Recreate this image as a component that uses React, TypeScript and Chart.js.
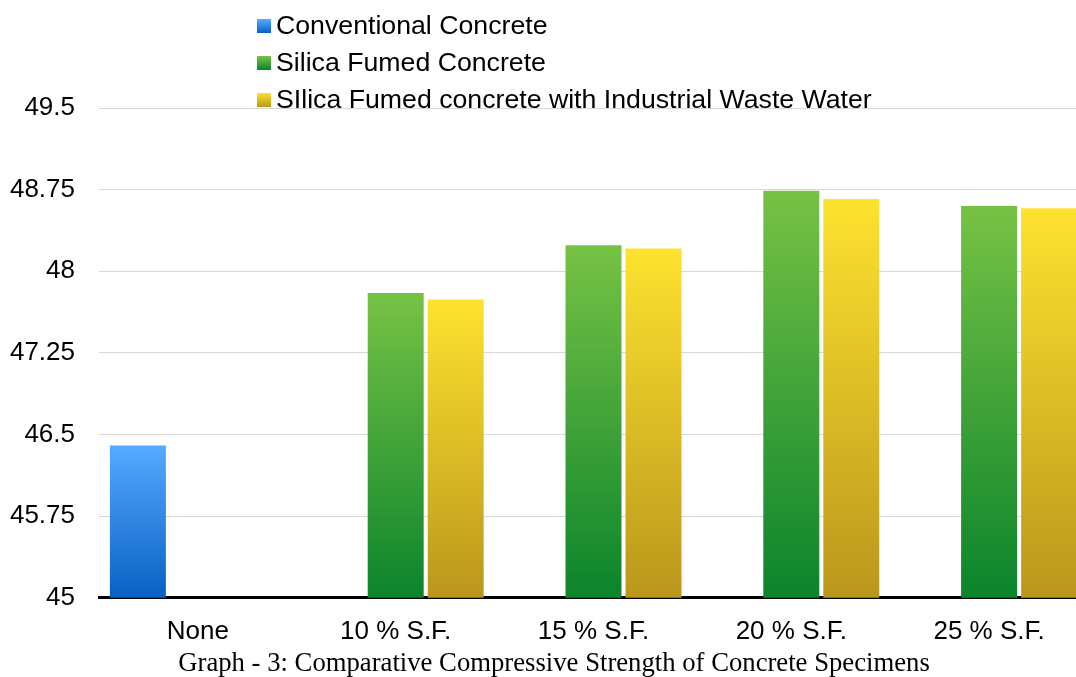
import React, { useEffect, useRef } from "react";
import { Chart, registerables } from "chart.js";

Chart.register(...registerables);

const categories = ["None", "10 % S.F.", "15 % S.F.", "20 % S.F.", "25 % S.F."];
const seriesNames = [
  "Conventional Concrete",
  "Silica Fumed Concrete",
  "SIlica Fumed concrete with Industrial Waste Water",
];
const conventionalValues = [46.4, null, null, null, null];
const silicaValues = [null, 47.8, 48.24, 48.74, 48.6];
const wasteWaterValues = [null, 47.74, 48.21, 48.665, 48.58];
const yTickLabels = ["45", "45.75", "46.5", "47.25", "48", "48.75", "49.5"];
const chartTitle = "Graph - 3: Comparative Compressive Strength of Concrete Specimens";

const gradients: [string, string][] = [
  ["#55abff", "#0a60c3"],
  ["#77c245", "#0b842c"],
  ["#fde22f", "#ba971c"],
];

function barGradient(top: string, bottom: string) {
  return (ctx: any) => {
    const chart = ctx.chart;
    const yScale = chart.scales && chart.scales.y;
    const v = ctx.raw;
    if (!chart.chartArea || !yScale || v === null || v === undefined) return top;
    const y0 = yScale.getPixelForValue(v);
    const y1 = yScale.getPixelForValue(yScale.min);
    if (!isFinite(y0) || !isFinite(y1) || y0 === y1) return top;
    const g = chart.ctx.createLinearGradient(0, y0, 0, y1);
    g.addColorStop(0, top);
    g.addColorStop(1, bottom);
    return g;
  };
}

export default function App() {
  const canvasRef = useRef<HTMLCanvasElement | null>(null);

  useEffect(() => {
    if (!canvasRef.current) return;
    const seriesValues = [conventionalValues, silicaValues, wasteWaterValues];
    const chart = new Chart(canvasRef.current, {
      type: "bar",
      data: {
        labels: categories,
        datasets: seriesValues.map((vals, i) => ({
          label: seriesNames[i],
          data: vals as any,
          backgroundColor: barGradient(gradients[i][0], gradients[i][1]) as any,
          borderWidth: 0,
          categoryPercentage: 0.91,
          barPercentage: 0.933,
          yAxisID: "y",
        })),
      },
      options: {
        responsive: false,
        animation: false,
        devicePixelRatio: 1,
        layout: { padding: { top: 108, right: 0, bottom: 0, left: 0 } },
        plugins: {
          legend: { display: false },
          tooltip: { enabled: false },
          title: {
            display: true,
            position: "bottom",
            text: chartTitle,
            color: "#000",
            font: { family: "'Liberation Serif', 'Times New Roman', serif", size: 26.7, weight: "normal", lineHeight: 1 },
            padding: { top: 6, bottom: 0 },
          },
        },
        scales: {
          x: {
            afterFit: (scale: any) => {
              scale.height = 46.5;
            },
            grid: { display: false, drawTicks: false },
            border: { display: true, color: "#000", width: 3 },
            ticks: {
              color: "#000",
              padding: 18,
              maxRotation: 0,
              autoSkip: false,
              font: { family: "'Liberation Sans', Arial, sans-serif", size: 26 },
            },
          },
          y: {
            min: 45,
            max: 49.5,
            afterFit: (scale: any) => {
              scale.width = 99;
            },
            grid: { color: "#d9d9d9", lineWidth: 1, drawTicks: false },
            border: { display: false },
            ticks: {
              stepSize: 0.75,
              color: "#000",
              padding: 24,
              font: { family: "'Liberation Sans', Arial, sans-serif", size: 26 },
              callback: (_v: any, index: number) => yTickLabels[index],
            },
          },
          yRight: {
            type: "linear",
            position: "right",
            min: 45,
            max: 49.5,
            afterFit: (scale: any) => {
              scale.width = 20;
            },
            grid: { display: false, drawTicks: false },
            border: { display: false },
            ticks: { display: false },
          },
        },
      },
    });
    return () => chart.destroy();
  }, []);

  return (
    <div
      style={{
        position: "absolute",
        left: 0,
        top: 0,
        width: 1076,
        height: 677,
        overflow: "hidden",
        background: "#fff",
      }}
    >
      <canvas
        ref={canvasRef}
        width={1108}
        height={677}
        style={{ position: "absolute", left: 0, top: 0, width: 1108, height: 677 }}
      />
      <div style={{ position: "absolute", left: 257, top: 7 }}>
        {seriesNames.map((name, i) => (
          <div
            key={name}
            style={{
              display: "flex",
              alignItems: "center",
              height: 37,
              fontFamily: "'Liberation Sans', Arial, sans-serif",
              fontSize: 26.7,
              color: "#000",
              whiteSpace: "nowrap",
            }}
          >
            <span
              style={{
                display: "inline-block",
                width: 14,
                height: 14,
                marginRight: 5,
                background: `linear-gradient(to bottom, ${gradients[i][0]}, ${gradients[i][1]})`,
              }}
            />
            <span>{name}</span>
          </div>
        ))}
      </div>
    </div>
  );
}
